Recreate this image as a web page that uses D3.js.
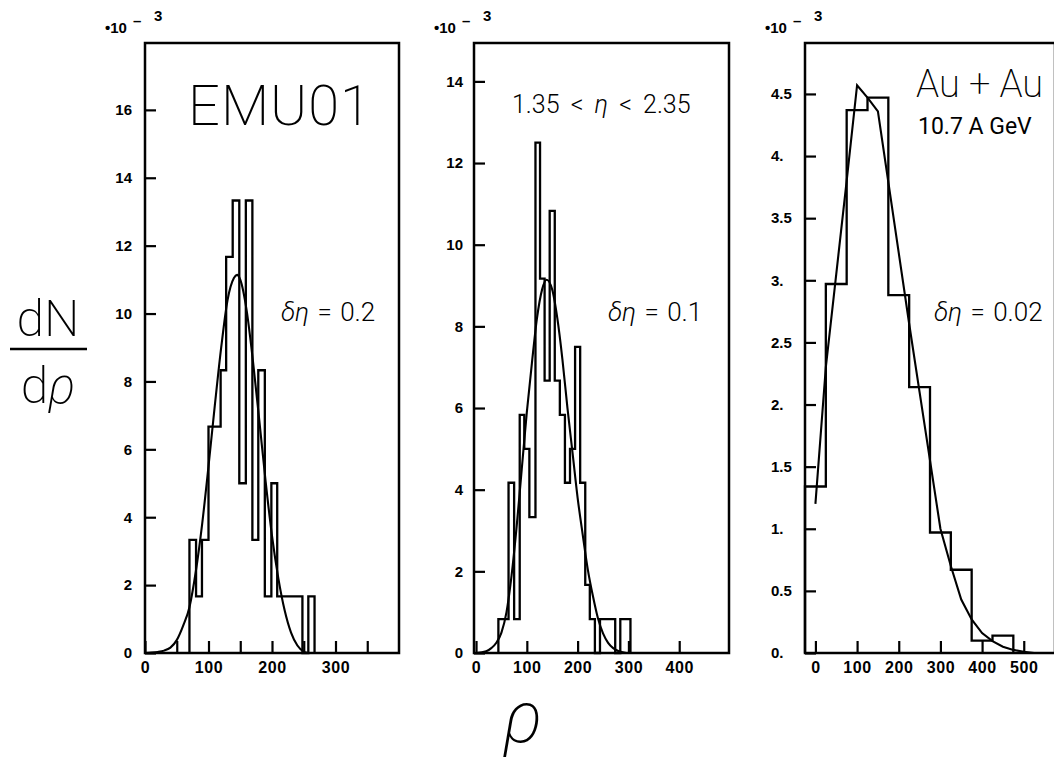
<!DOCTYPE html>
<html><head><meta charset="utf-8">
<script src="https://cdn.jsdelivr.net/npm/d3@7"></script>
<style>
body{margin:0;background:#fff;}
svg{display:block;}
</style></head><body>
<svg id="chart" width="1054" height="770"></svg>
<script>
// ---------------- DATA ----------------
// Panel 1 : EMU01, delta eta = 0.2
const emuEdges  = [70,80.4,89.7,100,109.8,119.1,127.8,138.1,148.5,158.8,169.1,178.4,188.7,199,208.2,218,227.8,238,247.9,257.2,267];
const emuValues = [3.33,1.67,3.33,6.67,6.67,8.33,11.67,13.33,5.0,13.33,3.33,8.33,1.67,5.0,1.67,1.67,1.67,1.67,0,1.67];
const emuFitX   = [0,10,20,30,40,50,60,70,80,90,100,110,120,130,140,145,150,160,170,180,190,200,210,220,230,240,250,256];
const emuFitY   = [0,0.01,0.03,0.07,0.16,0.38,0.8,1.35,2.4,3.8,5.5,7.3,9.0,10.4,11.05,11.14,11.0,10.1,8.6,6.85,5.05,3.45,2.2,1.25,0.6,0.22,0.04,0];
const emuXTicks = [0,50,100,150,200,250,300,350];
const emuXLabels = [0,100,200,300];
const emuYTicks = [0,2,4,6,8,10,12,14,16];

// Panel 2 : 1.35 < eta < 2.35, delta eta = 0.1
const etaEdges  = [44,54,64,75,86,95,105,117,126,135,145,155,165,175,185,195,205,215,224,234,244,254,264,274,284,294,304];
const etaValues = [0.83,0.83,4.17,0.83,5.83,5.0,3.33,12.5,9.17,6.67,10.83,6.67,5.83,4.17,5.0,7.5,4.17,1.67,0.83,0,0.83,0.83,0.83,0,0.83,0.83];
const etaFitX   = [0,20,30,40,50,60,70,80,90,100,110,120,130,139,150,160,170,180,190,200,210,220,230,240,250,260,270,280,296];
const etaFitY   = [0,0.04,0.12,0.25,0.5,1.0,1.9,3.1,4.5,5.9,7.1,8.2,8.9,9.14,8.9,8.2,7.2,6.0,4.9,3.8,2.9,2.05,1.4,0.85,0.48,0.25,0.12,0.05,0];
const etaXTicks = [0,100,200,300,400];
const etaXLabels = [0,100,200,300,400];
const etaYTicks = [0,2,4,6,8,10,12,14];

// Panel 3 : Au + Au 10.7 A GeV, delta eta = 0.02
const auEdges  = [-25,25,75,125,175,225,275,325,375,425,475];
const auValues = [1.34,2.97,4.37,4.47,2.88,2.14,0.97,0.67,0.10,0.14];
const auFitX   = [0,25,50,75,100,125,150,175,200,225,250,275,300,325,350,375,400,425,450,475,500,525,550];
const auFitY   = [1.2,2.3,3.05,3.8,4.57,4.47,4.36,3.79,3.22,2.65,2.1,1.55,1.0,0.7,0.43,0.27,0.16,0.095,0.05,0.025,0.01,0.0,0.0];
const auXTicks = [0,100,200,300,400,500];
const auXLabels = [0,100,200,300,400,500];
const auYTicks = [0,0.5,1,1.5,2,2.5,3,3.5,4,4.5];

// ---------------- DRAWING ----------------
const svg = d3.select("#chart");
const FONT_B = "'Liberation Sans', Arial, Helvetica, sans-serif";
const FONT_L = "Roboto, Lato, 'Open Sans', 'DejaVu Sans', sans-serif";

const panels = [
  {left:145, right:399, top:43, bottom:653, xDomain:[0,400], yDomain:[0,17.97],
   edges:emuEdges, values:emuValues, fitX:emuFitX, fitY:emuFitY, curve:d3.curveMonotoneX,
   xTicks:emuXTicks, xLabels:emuXLabels, yTicks:emuYTicks, yFmt:d=>String(d), yLabelX:-13, yAnchor:"end"},
  {left:474, right:729, top:43, bottom:653, xDomain:[-4,498], yDomain:[0,14.94],
   edges:etaEdges, values:etaValues, fitX:etaFitX, fitY:etaFitY, curve:d3.curveMonotoneX,
   xTicks:etaXTicks, xLabels:etaXLabels, yTicks:etaYTicks, yFmt:d=>String(d), yLabelX:-11, yAnchor:"end"},
  {left:805, right:1055, top:43, bottom:653, xDomain:[-25,575], yDomain:[0,4.91],
   edges:auEdges, values:auValues, fitX:auFitX, fitY:auFitY, curve:d3.curveLinear,
   xTicks:auXTicks, xLabels:auXLabels, yTicks:auYTicks, yFmt:d=>(Number.isInteger(d)? d+"." : String(d)), yLabelX:-34, yAnchor:"start"}
];

panels.forEach(p => {
  const x = d3.scaleLinear().domain(p.xDomain).range([p.left, p.right]);
  const y = d3.scaleLinear().domain(p.yDomain).range([p.bottom, p.top]);
  const g = svg.append("g");

  // histogram outline
  const pts = [[p.edges[0], 0]];
  p.values.forEach((v, i) => { pts.push([p.edges[i], v]); pts.push([p.edges[i+1], v]); });
  pts.push([p.edges[p.edges.length-1], 0]);
  g.append("path")
    .attr("d", d3.line().x(d => x(d[0])).y(d => y(d[1]))(pts))
    .attr("fill", "none").attr("stroke", "#000").attr("stroke-width", 2.3)
    .attr("stroke-linejoin", "miter");

  // fit curve
  const fit = p.fitX.map((xv, i) => [xv, p.fitY[i]]);
  g.append("path")
    .attr("d", d3.line().x(d => x(d[0])).y(d => y(d[1])).curve(p.curve)(fit))
    .attr("fill", "none").attr("stroke", "#000").attr("stroke-width", 2.1);

  // x axis (ticks inward)
  const xAxis = d3.axisBottom(x).tickValues(p.xTicks).tickSize(-12).tickPadding(9)
    .tickFormat(d => p.xLabels.includes(d) ? String(d) : "");
  const gx = g.append("g").attr("transform", `translate(0,${p.bottom})`).call(xAxis);
  gx.select(".domain").remove();
  gx.selectAll("line").attr("stroke", "#000").attr("stroke-width", 2.2);
  gx.selectAll("text").style("font-family", FONT_B).style("font-weight", "bold")
    .style("font-size", "16px").style("letter-spacing", "0.6px").attr("fill", "#000");

  // y axis (ticks inward)
  const yAxis = d3.axisLeft(y).tickValues(p.yTicks).tickSize(-11).tickPadding(0)
    .tickFormat(p.yFmt);
  const gy = g.append("g").attr("transform", `translate(${p.left},0)`).call(yAxis);
  gy.select(".domain").remove();
  gy.selectAll("line").attr("stroke", "#000").attr("stroke-width", 2.2);
  gy.selectAll("text").attr("x", p.yLabelX).attr("text-anchor", p.yAnchor)
    .style("font-family", FONT_B).style("font-weight", "bold")
    .style("font-size", "15px").attr("fill", "#000");

  // frame
  g.append("rect").attr("x", p.left).attr("y", p.top)
    .attr("width", p.right - p.left).attr("height", p.bottom - p.top)
    .attr("fill", "none").attr("stroke", "#000").attr("stroke-width", 2.5);

  // *10^-3 label
  const lab = g.append("g").style("font-family", FONT_B).style("font-weight", "bold").attr("fill", "#000");
  lab.append("text").attr("x", p.left - 40).attr("y", 33).style("font-size", "15px").text("•10");
  lab.append("text").attr("x", p.left - 12).attr("y", 26).style("font-size", "15px").text("–");
  lab.append("text").attr("x", p.left + 9).attr("y", 21).style("font-size", "15px").text("3");
});

// annotations
function txt(x, y, size, weight, parts, family) {
  const t = svg.append("text").attr("x", x).attr("y", y)
    .style("font-family", family || FONT_L).style("font-size", size + "px")
    .style("font-weight", weight).attr("fill", "#000");
  parts.forEach(pt => {
    const s = t.append("tspan").text(pt.t);
    if (pt.i) s.style("font-style", "italic");
  });
  return t;
}
txt(188, 125, 56, 200, [{t:"EMU01"}]).style("letter-spacing", "1px");
txt(281, 321, 26, 300, [{t:"δη", i:true}, {t:" = 0.2"}]).style("word-spacing", "2px");
txt(512, 113, 25, 300, [{t:"1.35 < "}, {t:"η", i:true}, {t:" < 2.35"}]).style("word-spacing", "5px");
txt(608, 321, 26, 300, [{t:"δη", i:true}, {t:" = 0.1"}]).style("word-spacing", "2px");
txt(916, 97, 38, 200, [{t:"Au + Au"}]);
txt(918, 134, 23, 400, [{t:"10.7 A GeV"}]);
txt(934, 321, 26, 300, [{t:"δη", i:true}, {t:" = 0.02"}]).style("word-spacing", "2px");

// y title dN/dρ
txt(48, 336, 50, 200, [{t:"dN"}]).attr("text-anchor", "middle");
svg.append("line").attr("x1", 10).attr("x2", 87).attr("y1", 349).attr("y2", 349)
  .attr("stroke", "#000").attr("stroke-width", 2.4);
txt(48, 403, 50, 200, [{t:"d"}, {t:"ρ", i:true}]).attr("text-anchor", "middle");
// x title ρ
txt(523, 742, 72, 200, [{t:"ρ", i:true}]).attr("text-anchor", "middle");
</script>
</body></html>
